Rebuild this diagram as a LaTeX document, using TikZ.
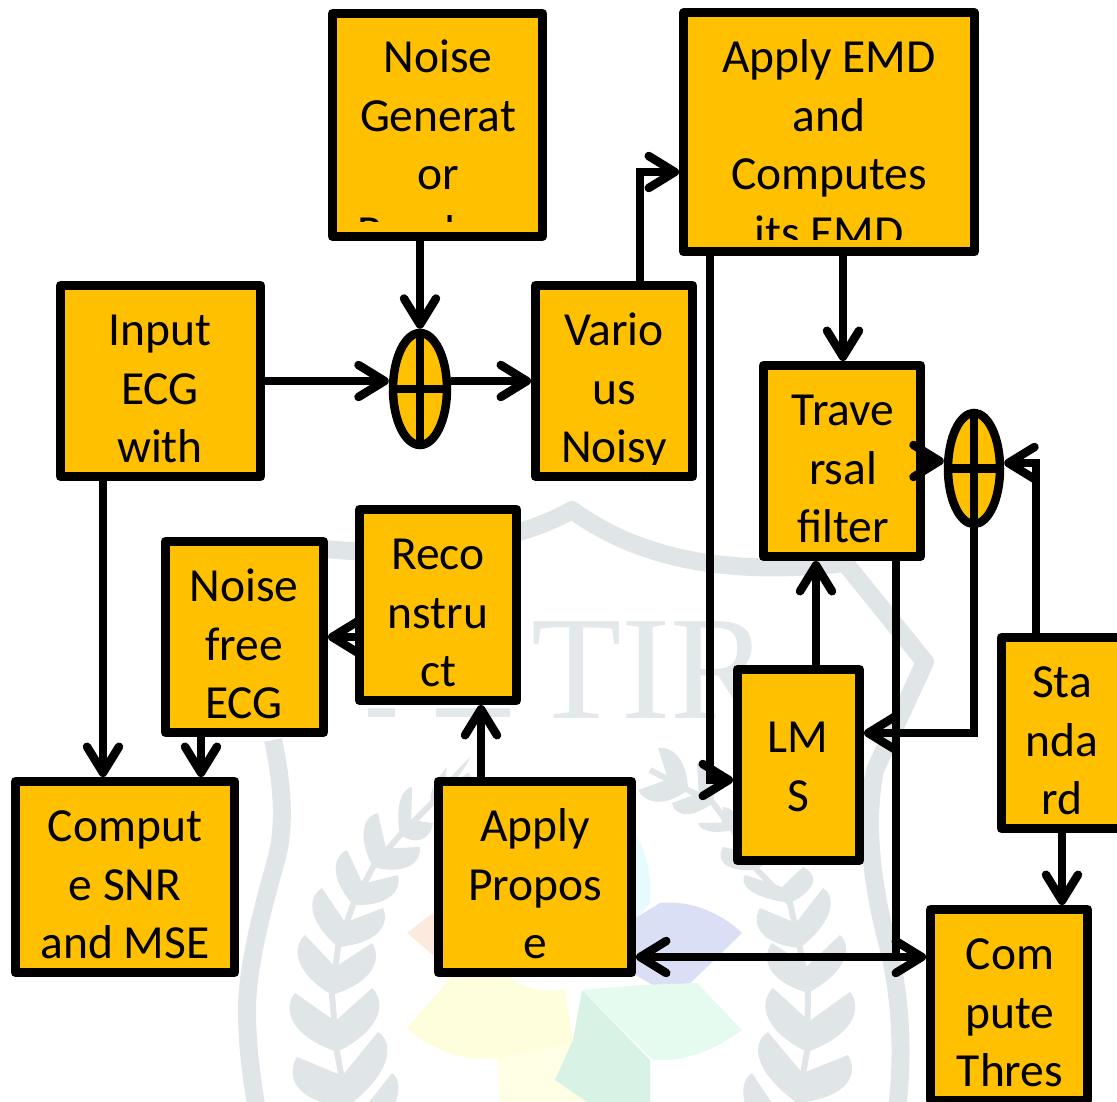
\documentclass[tikz,border=0pt]{standalone}
\usepackage{fontspec}
\setmainfont{Carlito}
\newfontfamily\wmfont{Liberation Serif}
\usetikzlibrary{arrows.meta,shapes.geometric,calc}
\definecolor{boxfill}{HTML}{FFC000}
\definecolor{wm}{HTML}{E0E5E8}
\definecolor{wmtxt}{HTML}{E3E8EB}
\definecolor{pOrange}{HTML}{FBEADD}
\definecolor{pCyan}{HTML}{E5FBFD}
\definecolor{pBlue}{HTML}{DBDFF5}
\definecolor{pGreen}{HTML}{E6FBEF}
\definecolor{pDark}{HTML}{D8F3E6}
\definecolor{pYellow}{HTML}{FEFEDC}
\definecolor{pPale}{HTML}{FFFFE5}
\tikzset{
  box/.style={draw=black,fill=boxfill,line width=9pt,line join=round,rectangle,inner sep=0pt},
  sum/.style={draw=black,fill=boxfill,line width=8.5pt,ellipse,inner sep=0pt},
  lbl/.style={anchor=north,inner sep=0pt,align=center,font=\fontsize{47.5}{58.7}\selectfont},
  conn/.style={line width=8.5pt,-{Straight Barb[length=26pt,width=32pt,round]}},
  both/.style={line width=8.5pt,{Straight Barb[length=26pt,width=32pt,round]}-{Straight Barb[length=26pt,width=32pt,round]}},
  plain/.style={line width=8.5pt},
  band/.style={draw=wm,line width=18pt,line join=round},
  leaf/.style={fill=wm,draw=none},
  stem/.style={draw=wm,line width=6pt},
}
% base x,y ; tip1 x,y ; tip2 x,y
\newcommand\lp[6]{%
  \coordinate (B) at (#1,#2);
  \coordinate (P) at (#3,#4);
  \coordinate (Q) at (#5,#6);
  \coordinate (N) at ($(B)!.5!($(P)!.5!(Q)$)$);
  \fill[leaf] (B) .. controls ($(B)!.35!(P)+.48*(P)-.48*(Q)$) and ($(B)!.8!(P)+.25*(P)-.25*(Q)$) .. (P)
    .. controls ($(P)!.4!(N)$) and ($(P)!.8!(N)$) .. (N)
    .. controls ($(Q)!.8!(N)$) and ($(Q)!.4!(N)$) .. (Q)
    .. controls ($(B)!.8!(Q)+.25*(Q)-.25*(P)$) and ($(B)!.35!(Q)+.48*(Q)-.48*(P)$) .. (B) -- cycle;}
\newcommand\boxtext[5]{% name, x, first baseline, clip bottom, text
  \begin{scope}
    \clip (#2-150,#3-60) rectangle (#2+150,#4);
    \node[lbl] (#1) at (#2,#3-41.8) {#5};
  \end{scope}}
\begin{document}
\begin{tikzpicture}[x=1pt,y=-1pt]
\useasboundingbox (0,0) rectangle (1117,1102);
\clip (0,0) rectangle (1117,1102);
% watermark: shield
\draw[band] (315,548) .. controls (420,560) and (520,540) .. (572,510) .. controls (620,545) and (700,580) .. (845,563) -- (925,662) -- (875,770) .. controls (865,820) and (870,880) .. (890,953) .. controls (900,1000) and (904,1050) .. (897,1110);
\draw[band] (273,740) .. controls (284,790) and (284,830) .. (277,857) .. controls (265,900) and (248,960) .. (247,1007) .. controls (247,1050) and (252,1080) .. (257,1110);
\node[anchor=base west,inner sep=0pt,text=wmtxt,font=\wmfont\fontsize{148}{148}\selectfont] (wmtext) at (531,718) {TIR};
\fill[wmtxt] (368,708) rectangle (395,717);
\fill[wmtxt] (436,708) rectangle (510,717);
% watermark: petals
\fill[pOrange] (407,933) -- (433,913) -- (445,965) -- cycle;
\fill[pCyan] (630,828) .. controls (645,845) and (652,870) .. (650,903) -- (635,920) -- (630,920) -- cycle;
\fill[pBlue] (632,920) -- (660,903) .. controls (690,900) and (720,912) .. (742,933) -- (675,998) -- (632,973) -- cycle;
\fill[pGreen] (582,990) -- (643,985) -- (697,983) -- (742,1030) .. controls (715,1050) and (685,1062) .. (653,1060) -- cycle;
\fill[pYellow] (453,975) -- (507,975) .. controls (525,990) and (545,992) .. (565,990) -- (573,1043) -- (497,1058) .. controls (465,1062) and (430,1050) .. (407,1028) -- cycle;
\fill[pPale] (497,1058) -- (573,1043) -- (556,1080) -- (590,1102) -- (500,1102) -- cycle;
\fill[pDark] (582,990) -- (650,1060) -- (650,1102) -- (587,1102) -- (555,1080) -- (573,1040) -- cycle;
% watermark: laurel
\draw[stem] (470,775) -- (432,803) -- (400,835) -- (373,867) -- (353,905) -- (338,947) -- (332,995) -- (337,1052) -- (347,1107);
\draw[stem] (650,770) -- (688,790) -- (713,803) -- (733,830) -- (757,870) -- (790,903) -- (800,948) -- (808,993) -- (807,1052) -- (797,1107);
\lp{432}{803}{447}{767}{470}{757}
\lp{400}{835}{412}{787}{433}{823}
\lp{373}{867}{378}{813}{420}{847}
\lp{353}{905}{347}{850}{398}{875}
\lp{338}{947}{322}{888}{383}{908}
\lp{332}{995}{305}{935}{372}{943}
\lp{337}{1052}{295}{993}{372}{988}
\lp{347}{1107}{297}{1057}{378}{1032}
\lp{350}{1160}{392}{1073}{310}{1110}
\lp{688}{790}{658}{748}{638}{790}
\lp{713}{803}{697}{763}{672}{803}
\lp{733}{830}{723}{807}{698}{823}
\lp{757}{870}{723}{847}{775}{825}
\lp{790}{903}{745}{875}{803}{867}
\lp{800}{948}{760}{908}{823}{888}
\lp{808}{993}{772}{943}{840}{935}
\lp{807}{1052}{773}{988}{850}{992}
\lp{797}{1103}{768}{1032}{848}{1055}
\lp{783}{1160}{752}{1073}{830}{1110}
% boxes
\node[box,minimum width=291pt,minimum height=239pt] (emd) at (829,132.5) {};
\node[box,minimum width=210pt,minimum height=223pt] (gen) at (437.5,125) {};
\node[box,minimum width=200pt,minimum height=191pt] (input) at (160.5,381) {};
\node[box,minimum width=157pt,minimum height=191pt] (various) at (614,381) {};
\node[box,minimum width=157pt,minimum height=191pt] (trav) at (842,461) {};
\node[box,minimum width=157pt,minimum height=191pt] (recon) at (438,605) {};
\node[box,minimum width=158pt,minimum height=191pt] (free) at (244.5,637) {};
\node[box,minimum width=219pt,minimum height=191pt] (snr) at (125,877) {};
\node[box,minimum width=193pt,minimum height=191pt] (prop) at (535,877) {};
\node[box,minimum width=122pt,minimum height=191pt] (lms) at (798.5,765) {};
\node[box,minimum width=123pt,minimum height=191pt] (std) at (1063,733) {};
\node[box,minimum width=157pt,minimum height=191pt] (thres) at (1009,1005) {};
\node[sum,minimum width=54pt,minimum height=112pt] (s1) at (420,389) {};
\node[sum,minimum width=52pt,minimum height=111pt] (s2) at (974,468.5) {};
\draw[plain] (s1.north) -- (s1.south);
\draw[plain] (s1.west) -- (s1.east);
\draw[plain] (s2.north) -- (s2.south);
\draw[plain] (s2.west) -- (s2.east);
% texts
\boxtext{gen-t}{438}{73}{222}{\strut Noise\\\strut Generat\\\strut or\\\strut Random}
\boxtext{emd-t}{829}{73}{240}{\strut Apply EMD\\\strut and\\\strut Computes\\\strut its EMD}
\boxtext{input-t}{160}{346}{470}{\strut Input\\\strut ECG\\\strut with}
\boxtext{various-t}{614}{346}{464}{\strut Vario\\\strut us\\\strut Noisy}
\boxtext{trav-t}{843}{426}{552}{\strut Trave\\\strut rsal\\\strut filter}
\boxtext{recon-t}{438}{570}{697}{\strut Reco\\\strut nstru\\\strut ct}
\boxtext{free-t}{244}{602}{729}{\strut Noise\\\strut free\\\strut ECG}
\boxtext{snr-t}{125}{842}{969}{\strut Comput\\\strut e SNR\\\strut and MSE}
\boxtext{prop-t}{535}{842}{969}{\strut Apply\\\strut Propos\\\strut e}
\boxtext{lms-t}{798}{753}{857}{\strut LM\\\strut S}
\boxtext{std-t}{1062}{698}{825}{\strut Sta\\\strut nda\\\strut rd}
\boxtext{thres-t}{1010}{970}{1102}{\strut Com\\\strut pute\\\strut Thres}
% connectors
\coordinate (y381) at (0,381);
\coordinate (j) at (896,957);
\draw[conn] ([xshift=-17.5pt]gen.south) -- (s1.north);
\draw[conn] (input.east) -- (s1.west |- y381);
\draw[conn] (s1.east |- y381) -- (various.west);
\draw[conn] ([xshift=26pt]various.north) |- ([yshift=-39.5pt]emd.west);
\draw[conn] ([xshift=14pt]emd.south) -- ([xshift=1pt]trav.north);
\draw[conn] ([xshift=-119pt]emd.south) |- ([yshift=-15pt]lms.west);
\draw[conn] ([xshift=-57.5pt]input.south) -- ([xshift=-22pt]snr.north);
\draw[conn] ([xshift=-43.5pt]free.south) -- ([xshift=76pt]snr.north);
\draw[conn] (recon.west |- free.east) -- (free.east);
\draw[conn] ([xshift=-54pt]prop.north) -- ([xshift=43pt]recon.south);
\draw[conn] ([xshift=17.5pt]lms.north) -- ([xshift=-26pt]trav.south);
\draw[both] ([yshift=-80pt]prop.east) -- ([yshift=48pt]thres.west);
\draw[plain] ([xshift=54pt]trav.south) -- (j);
\draw[conn] (s2.south) |- ([yshift=32pt]lms.east);
\draw[conn] ([xshift=-27pt]std.north) |- ([yshift=5.5pt]s2.east);
\draw[conn] ([xshift=-1pt]std.south) -- ([xshift=53pt]thres.north);
\draw[conn] (trav.east) -- (s2.west |- trav.east);
\end{tikzpicture}
\end{document}
